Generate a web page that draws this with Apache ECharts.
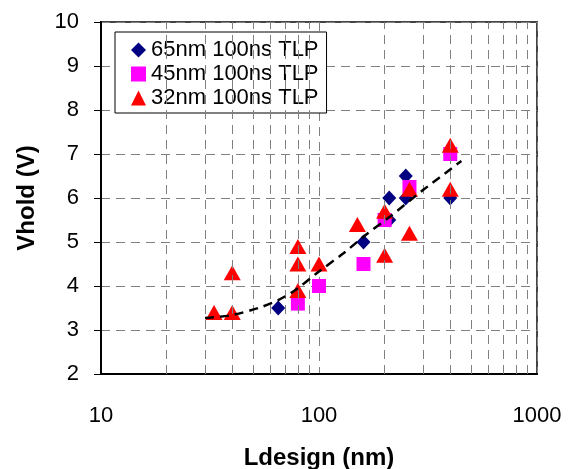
<!DOCTYPE html>
<html>
<head>
<meta charset="utf-8">
<script src="https://cdn.jsdelivr.net/npm/echarts@6/dist/echarts.min.js"></script>
<style>
  html, body { margin: 0; padding: 0; background: #fff; }
  #chart { width: 568px; height: 469px; }
</style>
</head>
<body>
<div id="chart"></div>
<script>
// values
const x65 = [65, 160, 210, 210, 250, 250, 400];
const y65 = [3.5, 5.0, 6.0, 5.5, 6.5, 6.0, 6.0];

const x45 = [80, 100, 160, 200, 260, 400];
const y45 = [3.6, 4.0, 4.5, 5.5, 6.25, 7.0];

const x32 = [33, 40, 40, 80, 80, 80, 100, 150, 200, 200, 260, 260, 400, 400];
const y32 = [3.4, 3.4, 4.3, 4.9, 4.5, 3.9, 4.5, 5.4, 4.7, 5.7, 6.2, 5.2, 6.2, 7.2];

// dashed trend curve
const trendX = [30, 40, 55, 65, 78, 100, 130, 160, 212, 300, 450];
const trendY = [3.27, 3.34, 3.53, 3.68, 3.91, 4.33, 4.75, 5.12, 5.58, 6.18, 6.84];

// minor log grid lines
const minorX = [20, 30, 40, 50, 60, 70, 80, 90, 200, 300, 400, 500, 600, 700, 800, 900];

const font = 'Liberation Sans, Arial, sans-serif';
const pairs = (xs, ys) => xs.map((x, i) => [x, ys[i]]);
const gridDash = { color: '#808080', width: 1, type: [9, 6] };

const chart = echarts.init(document.getElementById('chart'));
chart.setOption({
  animation: false,
  grid: {
    left: 101, right: 31, top: 22, bottom: 95,
    outerBoundsMode: 'none', containLabel: false,
    show: true, borderColor: '#444', borderWidth: 2
  },
  legend: {
    orient: 'vertical',
    left: 115, top: 32,
    data: ['65nm 100ns TLP', '45nm 100ns TLP', '32nm 100ns TLP'],
    itemWidth: 15, itemHeight: 15, itemGap: 2,
    padding: [7, 8, 4, 16],
    backgroundColor: '#fff',
    borderColor: '#000', borderWidth: 1,
    textStyle: { fontFamily: font, fontSize: 22, color: '#000' }
  },
  xAxis: {
    type: 'log', logBase: 10, min: 10, max: 1000,
    name: 'Ldesign (nm)', nameLocation: 'middle', nameGap: 72,
    nameTextStyle: { fontFamily: font, fontSize: 24, fontWeight: 'bold', color: '#000' },
    axisLine: { lineStyle: { color: '#000', width: 2 } },
    axisTick: { show: false },
    axisLabel: { fontFamily: font, fontSize: 22, color: '#000', margin: 31, formatter: v => String(v) },
    splitLine: { show: true, lineStyle: gridDash }
  },
  yAxis: {
    type: 'value', min: 2, max: 10, interval: 1,
    name: 'Vhold (V)', nameLocation: 'middle', nameGap: 62,
    nameTextStyle: { fontFamily: font, fontSize: 24, fontWeight: 'bold', color: '#000' },
    axisLine: { show: true, lineStyle: { color: '#000', width: 2 } },
    axisTick: { show: true, inside: false, length: 7, lineStyle: { color: '#000', width: 1 } },
    axisLabel: { fontFamily: font, fontSize: 22, color: '#000', margin: 22 },
    splitLine: { show: true, lineStyle: gridDash }
  },
  series: [
    {
      name: 'minor', type: 'line', data: [], z: 1, silent: true,
      markLine: {
        silent: true, symbol: 'none', label: { show: false },
        lineStyle: gridDash, animation: false,
        data: minorX.map(v => ({ xAxis: v }))
      }
    },
    {
      name: '65nm 100ns TLP', type: 'scatter', z: 2,
      symbol: 'diamond', symbolSize: [14, 15],
      itemStyle: { color: '#000080', opacity: 1 },
      data: pairs(x65, y65)
    },
    {
      name: '45nm 100ns TLP', type: 'scatter', z: 3,
      symbol: 'rect', symbolSize: 14,
      itemStyle: { color: '#FF00FF', opacity: 1 },
      data: pairs(x45, y45)
    },
    {
      name: '32nm 100ns TLP', type: 'scatter', z: 4,
      symbol: 'triangle', symbolSize: [17, 15],
      itemStyle: { color: '#FF0000', opacity: 1 },
      data: pairs(x32, y32)
    },
    {
      name: 'trend', type: 'line', z: 5, smooth: 0.3,
      symbol: 'none', silent: true,
      lineStyle: { color: '#000', width: 2.5, type: [9, 6] },
      data: pairs(trendX, trendY)
    }
  ]
});
</script>
</body>
</html>
